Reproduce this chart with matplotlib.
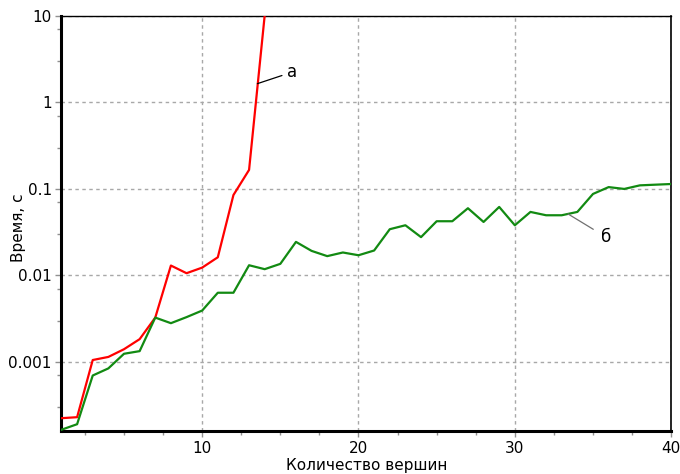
import matplotlib
matplotlib.use("Agg")
import matplotlib.pyplot as plt
from matplotlib.ticker import FixedLocator, FixedFormatter

x_a = [1, 2, 3, 4, 5, 6, 7, 8, 9, 10, 11, 12, 13, 14]
t_a = [2.23e-4, 2.29e-4, 1.05e-3, 1.14e-3, 1.4e-3, 1.83e-3, 3.25e-3,
       0.013, 0.0106, 0.0123, 0.0162, 0.085, 0.166, 10.2]

x_b = list(range(1, 41))
t_b = [1.64e-4, 1.9e-4, 6.95e-4, 8.4e-4, 1.24e-3, 1.33e-3, 3.25e-3, 2.8e-3,
       3.29e-3, 3.92e-3, 6.3e-3, 6.3e-3, 0.0131, 0.0118, 0.0136, 0.0244,
       0.0192, 0.0167, 0.0184, 0.0171, 0.0194, 0.0342, 0.038, 0.0277,
       0.0423, 0.0423, 0.0598, 0.0415, 0.0619, 0.038, 0.0542, 0.0496,
       0.0496, 0.0542, 0.0875, 0.105, 0.1, 0.110, 0.112, 0.114]

y_ticks = [0.001, 0.01, 0.1, 1, 10]
y_tick_labels = ["0.001", "0.01", "0.1", "1", "10"]
x_ticks = [10, 20, 30, 40]
x_tick_labels = ["10", "20", "30", "40"]

plt.rcParams['font.family'] = ['DejaVu Sans']
fig = plt.figure(figsize=(6.8, 4.74), dpi=100)
ax = fig.add_axes([0.0904, 0.0907, 0.8966, 0.8755])

ax.set_yscale('log')
ax.set_xlim(1, 40)
ax.set_ylim(10 ** -3.8, 10)

ax.plot(x_a, t_a, color='#ff0000', lw=1.6, clip_on=True, zorder=3)
ax.plot(x_b, t_b, color='#128a12', lw=1.6, clip_on=True, zorder=3)

ax.yaxis.set_major_locator(FixedLocator(y_ticks))
ax.yaxis.set_major_formatter(FixedFormatter(y_tick_labels))
minor_y = []
for e in range(-4, 1):
    for m in (3, 7):
        minor_y.append(m * 10.0 ** e)
ax.yaxis.set_minor_locator(FixedLocator(minor_y))
ax.yaxis.set_minor_formatter(FixedFormatter([""] * len(minor_y)))

ax.xaxis.set_major_locator(FixedLocator(x_ticks))
ax.xaxis.set_major_formatter(FixedFormatter(x_tick_labels))
ax.xaxis.set_minor_locator(FixedLocator([2.5, 5, 7.5, 12.5, 15, 17.5, 22.5, 25, 27.5, 32.5, 35, 37.5]))

ax.grid(True, which='major', color='#a8a8a8', linestyle=(0, (2.5, 2.5)), lw=1.0)
ax.tick_params(which='both', direction='out', color='#909090', labelsize=11, labelcolor='black')
ax.tick_params(which='major', length=4, width=1)
ax.tick_params(which='minor', length=3, width=1)
ax.tick_params(axis='y', pad=3)

for s in ('left', 'bottom'):
    ax.spines[s].set_linewidth(2.2)
    ax.spines[s].set_color('black')
ax.spines['top'].set_linewidth(1.0)
ax.spines['right'].set_linewidth(1.2)
ax.spines['right'].set_linestyle((0, (1, 1)))

ax.set_xlabel("Количество вершин", fontsize=11, labelpad=1)
ax.set_ylabel("Время, с", fontsize=11)
ax.yaxis.set_label_coords(-0.058, 0.49)

ax.annotate("а", xy=(13.53, 1.65), xytext=(15.45, 2.25), fontsize=12,
            ha='left', va='center',
            arrowprops=dict(arrowstyle='-', color='black', lw=0.9, shrinkA=2, shrinkB=0))
ax.annotate("б", xy=(33.4, 0.0514), xytext=(35.5, 0.0278), fontsize=12,
            ha='left', va='center',
            arrowprops=dict(arrowstyle='-', color='#707070', lw=0.9, shrinkA=4, shrinkB=0))

fig.savefig("out.png", dpi=100)
